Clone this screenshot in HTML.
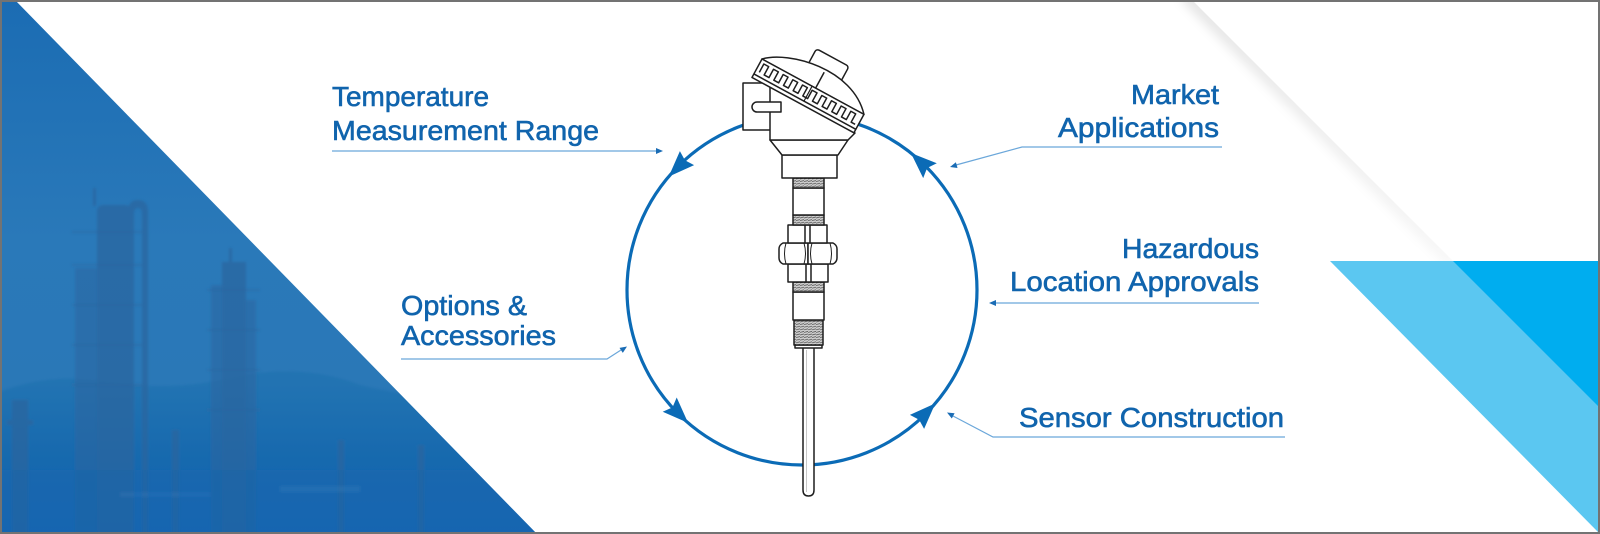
<!DOCTYPE html>
<html><head><meta charset="utf-8"><style>
html,body{margin:0;padding:0;background:#fff;width:1600px;height:534px;overflow:hidden}
svg{display:block}
text{font-family:"Liberation Sans",Arial,sans-serif;font-size:28px;fill:#1064ad;stroke:#1064ad;stroke-width:0.6}
</style></head><body>
<svg width="1600" height="534" viewBox="0 0 1600 534" xmlns="http://www.w3.org/2000/svg">
<defs>
 <linearGradient id="sky" x1="0" y1="0" x2="0" y2="1">
  <stop offset="0" stop-color="#1b6cb3"/>
  <stop offset="0.45" stop-color="#2a79b9"/>
  <stop offset="0.72" stop-color="#2a78b7"/>
  <stop offset="0.86" stop-color="#1c6bb3"/>
  <stop offset="1" stop-color="#1467b9"/>
 </linearGradient>
 <clipPath id="lt"><polygon points="0,0 15,0 537,534 0,534"/></clipPath>
 <clipPath id="shc"><polygon points="0,0 1192,0 1453,261 1453,534 0,534"/></clipPath>
 <linearGradient id="shg" gradientUnits="userSpaceOnUse" x1="1185" y1="0" x2="1450" y2="261">
  <stop offset="0" stop-color="#000" stop-opacity="0.10"/>
  <stop offset="1" stop-color="#000" stop-opacity="0.03"/>
 </linearGradient>
 <filter id="bl" x="-50%" y="-50%" width="200%" height="200%"><feGaussianBlur stdDeviation="5"/></filter>
 <filter id="soft" x="-10%" y="-10%" width="120%" height="120%"><feGaussianBlur stdDeviation="1.2"/></filter>
 <pattern id="thr" width="4" height="2.6" patternUnits="userSpaceOnUse">
  <rect width="4" height="2.6" fill="#cfcfcf"/>
  <line x1="0" y1="2.2" x2="4" y2="1.2" stroke="#555" stroke-width="0.8"/>
 </pattern>
</defs>

<rect width="1600" height="534" fill="#fff"/>

<!-- left photo triangle -->
<g clip-path="url(#lt)">
 <rect width="540" height="534" fill="url(#sky)"/>
 <g filter="url(#soft)">
 <path d="M0,392 Q50,372 110,382 Q170,392 230,378 Q300,362 360,385 Q420,400 540,410 V534 H0Z" fill="#1a5f9c" opacity="0.2"/>
 <g fill="#2a659e" opacity="0.7">
  <rect x="97" y="205" width="34" height="330" rx="6"/>
  <path d="M128,534 V212 Q128,200 138,200 Q148,200 148,212 V534 H142 V214 Q142,208 138,208 Q134,208 134,214 V534Z"/>
  <rect x="75" y="268" width="22" height="266" opacity="0.7"/>
  <rect x="93" y="188" width="3" height="18"/>
  <rect x="222" y="262" width="24" height="272"/>
  <rect x="211" y="285" width="11" height="249" opacity="0.7"/>
  <rect x="246" y="300" width="10" height="234" opacity="0.7"/>
  <rect x="229" y="248" width="3" height="16"/>
  <rect x="12" y="400" width="16" height="134"/>
  <rect x="7" y="420" width="26" height="5"/>
  <rect x="172" y="430" width="7" height="104"/>
  <rect x="338" y="440" width="6" height="94"/>
  <rect x="418" y="445" width="6" height="89"/>
 </g>
 <g stroke="#2a659e" stroke-width="2" opacity="0.45">
  <line x1="72" y1="232" x2="142" y2="232"/>
  <line x1="72" y1="265" x2="142" y2="265"/>
  <line x1="72" y1="305" x2="142" y2="305"/>
  <line x1="72" y1="345" x2="142" y2="345"/>
  <line x1="72" y1="385" x2="142" y2="385"/>
  <line x1="207" y1="290" x2="260" y2="290"/>
  <line x1="207" y1="330" x2="260" y2="330"/>
  <line x1="207" y1="370" x2="260" y2="370"/>
  <line x1="207" y1="410" x2="260" y2="410"/>
 </g>
 <rect x="0" y="470" width="540" height="64" fill="#1762ab" opacity="0.3"/>
 <rect x="280" y="486" width="80" height="6" fill="#4a8fc6" opacity="0.18"/>
 <rect x="120" y="492" width="90" height="5" fill="#4a8fc6" opacity="0.15"/>
 </g>
</g>

<!-- paper shadow -->
<g clip-path="url(#shc)">
 <line x1="1186" y1="-6" x2="1453" y2="261" stroke="url(#shg)" stroke-width="16" filter="url(#bl)"/>
</g>

<!-- right triangles -->
<polygon points="1330,261 1598,261 1598,532" fill="#5bc7f1"/>
<polygon points="1453,261 1598,261 1598,406" fill="#00adef"/>

<!-- circle -->
<circle cx="802" cy="290" r="175" fill="none" stroke="#0b6bb6" stroke-width="3.2"/>
<g fill="#0b6bb6">
 <polygon points="668.7,176.6 694.1,165.1 684.9,160.2 679.9,151.1"/>
 <polygon points="688.1,422.9 662.7,411.7 672.5,407.4 676.7,397.5"/>
 <polygon points="935.3,403.4 909.9,414.9 919.1,419.8 924.1,428.9"/>
 <polygon points="910.9,153 936.8,163.3 927.1,168 923.2,178.1"/>
</g>

<!-- connector lines -->
<g stroke="#6ba7da" stroke-width="1.2" fill="none">
 <polyline points="332,151 657,151"/>
 <polyline points="401,359 607,359 621,350"/>
 <polyline points="1222,147 1022,147 956,165"/>
 <polyline points="1259,303 995,303"/>
 <polyline points="1285,437 993,437 953,416"/>
</g>
<g fill="#1a6cb5">
 <polygon points="663,151 656,148 656,154"/>
 <polygon points="627,346.5 622.8,352.9 619.5,347.9"/>
 <polygon points="950,167 957.5,168 955.9,162.2"/>
 <polygon points="989,303 996,300 996,306"/>
 <polygon points="947,412.5 954.6,413.2 951.8,418.5"/>
</g>

<!-- labels -->
<text x="332" y="106" textLength="157" lengthAdjust="spacingAndGlyphs">Temperature</text>
<text x="332" y="140" textLength="267" lengthAdjust="spacingAndGlyphs">Measurement Range</text>
<text x="401" y="315" textLength="126" lengthAdjust="spacingAndGlyphs">Options &amp;</text>
<text x="401" y="345" textLength="155" lengthAdjust="spacingAndGlyphs">Accessories</text>
<text x="1131" y="104" textLength="88" lengthAdjust="spacingAndGlyphs">Market</text>
<text x="1058" y="137" textLength="161" lengthAdjust="spacingAndGlyphs">Applications</text>
<text x="1122" y="258" textLength="137" lengthAdjust="spacingAndGlyphs">Hazardous</text>
<text x="1010" y="291" textLength="249" lengthAdjust="spacingAndGlyphs">Location Approvals</text>
<text x="1019" y="427" textLength="265" lengthAdjust="spacingAndGlyphs">Sensor Construction</text>

<!-- device -->
<g stroke="#1e1e1e" stroke-width="1.5" fill="#fff" stroke-linejoin="round">
 <path d="M803,347 V490 Q803,496 808.5,496 Q814,496 814,490 V347 Z"/>
 <line x1="806.5" y1="350" x2="806.5" y2="492" stroke="#c8c8c8" stroke-width="1"/>
 <rect x="795" y="345" width="27" height="3"/>
 <rect x="794" y="320" width="29" height="25" fill="url(#thr)"/>
 <rect x="793" y="292" width="31" height="28"/>
 <rect x="793" y="282" width="31" height="10" fill="url(#thr)"/>
 <rect x="788" y="264" width="40" height="18"/>
 <line x1="806" y1="264" x2="806" y2="282"/><line x1="811" y1="264" x2="811" y2="282"/>
 <path d="M783,243 H808 V264 H783 Q779,262 779,258 V249 Q779,245 783,243 Z"/>
 <path d="M808,243 H833 Q837,245 837,249 V258 Q837,262 833,264 H808 Z"/>
 <path d="M786,243 Q783,253.5 786,264 M804,243 Q807,253.5 804,264 M812,243 Q809,253.5 812,264 M830,243 Q833,253.5 830,264" fill="none" stroke-width="1"/>
 <rect x="788" y="225" width="39" height="18"/>
 <line x1="805" y1="225" x2="805" y2="243"/><line x1="810" y1="225" x2="810" y2="243"/>
 <rect x="793" y="215" width="31" height="10" fill="url(#thr)"/>
 <rect x="793" y="188" width="31" height="27"/>
 <rect x="793" y="178" width="31" height="10" fill="url(#thr)"/>
 <rect x="782" y="155" width="55" height="23"/>
 <polygon points="770,140 848,140 838,155 782,155"/>
 <!-- head -->
 <g transform="translate(762,59) rotate(28.5)">
  <rect x="43" y="-35" width="37" height="18" rx="3"/>
 </g>
 <rect x="743" y="83" width="28" height="47"/>
 <polygon points="770,87 855,133 848,140 770,140"/>
 <path d="M781,102 H757 A5,5 0 0 0 757,112 H781 Z"/>
 <g transform="translate(762,59) rotate(28.5)">
  <path d="M0,0 C20,-20 85,-35 116,0 Z"/>
  <rect x="0" y="0" width="116" height="21"/>
  <path fill="none" stroke-width="1.5" d="M4,13 V3.5 H9.5 V13 H15 V3.5 H20.5 V13 H26 V3.5 H31.5 V13 H37 V3.5 H42.5 V13 H48 V3.5 H53.5 V13 H59 V3.5 H64.5 V13 H70 V3.5 H75.5 V13 H81 V3.5 H86.5 V13 H92 V3.5 H97.5 V13 H103 V3.5 H108.5 V13 H113"/>
  <line x1="0" y1="17" x2="116" y2="17"/>
  <line x1="61" y1="-18" x2="61" y2="0"/>
  <line x1="57" y1="0" x2="57" y2="17" stroke-width="1.2"/>
 </g>
</g>

<!-- frame -->
<rect x="1" y="1" width="1598" height="532" fill="none" stroke="#737373" stroke-width="2"/>
</svg>
</body></html>
